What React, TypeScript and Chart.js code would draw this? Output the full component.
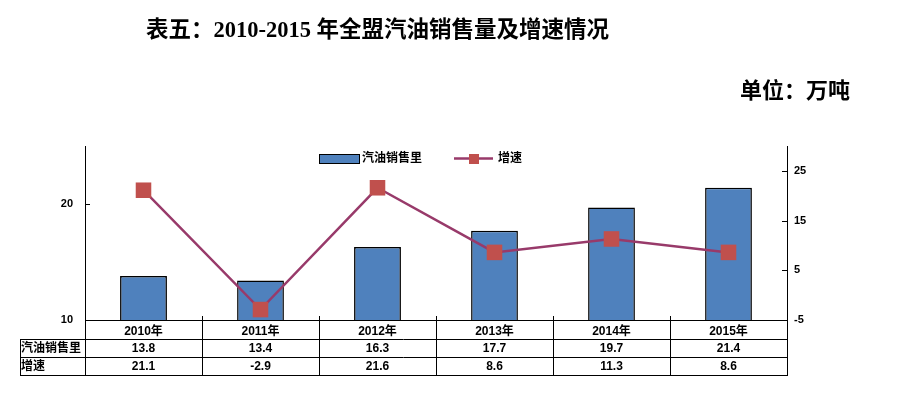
import { useEffect, useRef } from 'react';
import { Chart, registerables } from 'chart.js';

Chart.register(...registerables);

const categories = ['2010年', '2011年', '2012年', '2013年', '2014年', '2015年'];
const salesValues = [13.8, 13.4, 16.3, 17.7, 19.7, 21.4];
const growthValues = [21.1, -2.9, 21.6, 8.6, 11.3, 8.6];
const leftTicks = [10, 20];
const rightTicks = [-5, 5, 15, 25];
const seriesNames = ['汽油销售里', '增速'];
const titleText = '表五：2010-2015 年全盟汽油销售量及增速情况';
const unitText = '单位：万吨';

const BAR_COLOR = '#4F81BD';
const LINE_COLOR = '#983A6A';
const MARKER_COLOR = '#C0504D';
const SANS = "'Liberation Sans', 'Noto Sans CJK SC', sans-serif";
const SERIF = "'Liberation Serif', 'Noto Sans CJK SC', serif";

const decorPlugin = {
  id: 'decor',
  afterDraw(chart: any) {
    const { ctx, chartArea } = chart;
    const { left, right, top, bottom } = chartArea;
    const xs = chart.scales.x;
    const yl = chart.scales.y;
    const yr = chart.scales.y1;
    const p = (v: number) => Math.round(v) + 0.5;
    const line = (x1: number, y1: number, x2: number, y2: number) => {
      ctx.beginPath();
      ctx.moveTo(x1, y1);
      ctx.lineTo(x2, y2);
      ctx.stroke();
    };
    const row1 = bottom + 19;
    const row2 = bottom + 37;
    const tableBottom = bottom + 55;
    const labelLeft = 20;

    ctx.save();
    ctx.strokeStyle = '#000';
    ctx.lineWidth = 1;
    // table horizontal lines
    line(labelLeft, p(row1), right, p(row1));
    line(labelLeft, p(row2), right, p(row2));
    line(labelLeft, p(tableBottom), right + 1, p(tableBottom));
    // table verticals
    line(p(labelLeft), p(row1), p(labelLeft), p(tableBottom));
    line(p(left), bottom, p(left), p(tableBottom));
    line(p(right), bottom, p(right), p(tableBottom));
    for (let i = 1; i < categories.length; i++) {
      const bx = (xs.getPixelForValue(i - 1) + xs.getPixelForValue(i)) / 2;
      line(p(bx), bottom - 4, p(bx), p(tableBottom));
    }
    // inner ticks
    leftTicks.forEach((v) => {
      const ty = p(yl.getPixelForValue(v));
      line(left, ty, left + 5, ty);
    });
    rightTicks.forEach((v) => {
      const ty = p(yr.getPixelForValue(v));
      line(right - 5, ty, right, ty);
    });

    // table text
    ctx.fillStyle = '#000';
    ctx.font = `bold 12px ${SANS}`;
    ctx.textBaseline = 'middle';
    ctx.textAlign = 'left';
    ctx.fillText(seriesNames[0], labelLeft + 1, (row1 + row2) / 2 + 1);
    ctx.fillText(seriesNames[1], labelLeft + 1, (row2 + tableBottom) / 2 + 1);
    ctx.textAlign = 'center';
    categories.forEach((_, i) => {
      const cx = xs.getPixelForValue(i);
      ctx.fillText(salesValues[i].toFixed(1), cx, (row1 + row2) / 2 + 1);
      ctx.fillText(growthValues[i].toFixed(1), cx, (row2 + tableBottom) / 2 + 1);
    });

    // legend
    const ly = top + 12;
    ctx.fillStyle = BAR_COLOR;
    ctx.fillRect(319, ly - 4, 40, 9);
    ctx.strokeRect(319.5, ly - 4 + 0.5, 40, 9);
    ctx.fillStyle = '#000';
    ctx.textAlign = 'left';
    ctx.fillText(seriesNames[0], 362, ly + 1);
    ctx.strokeStyle = LINE_COLOR;
    ctx.lineWidth = 2.5;
    line(454, ly + 0.5, 493, ly + 0.5);
    ctx.fillStyle = MARKER_COLOR;
    ctx.fillRect(469, ly - 4, 10, 10);
    ctx.fillStyle = '#000';
    ctx.fillText(seriesNames[1], 498, ly + 1);

    // title & unit
    ctx.font = `bold 22.5px ${SERIF}`;
    ctx.textAlign = 'left';
    ctx.fillText(titleText, 146, 31);
    ctx.font = `600 22px ${SERIF}`;
    ctx.fillText(unitText, 740, 92);
    ctx.restore();
  },
};

export default function App() {
  const ref = useRef<HTMLCanvasElement | null>(null);
  useEffect(() => {
    if (!ref.current) return;
    const chart = new Chart(ref.current, {
      type: 'bar',
      data: {
        labels: categories,
        datasets: [
          {
            type: 'line',
            label: seriesNames[1],
            data: growthValues,
            yAxisID: 'y1',
            borderColor: LINE_COLOR,
            borderWidth: 2.5,
            pointStyle: 'rect',
            pointRadius: 11,
            pointBackgroundColor: MARKER_COLOR,
            pointBorderColor: MARKER_COLOR,
            pointBorderWidth: 0,
            tension: 0,
            order: 0,
          } as any,
          {
            type: 'bar',
            label: seriesNames[0],
            data: salesValues,
            yAxisID: 'y',
            backgroundColor: BAR_COLOR,
            borderColor: '#000',
            borderWidth: 1.5,
            categoryPercentage: 1,
            barPercentage: 0.4,
            order: 1,
          } as any,
        ],
      },
      options: {
        responsive: false,
        animation: false,
        layout: { padding: { top: 146, left: 0, right: 0, bottom: 0 } },
        plugins: {
          legend: { display: false },
          title: { display: false },
          tooltip: { enabled: false },
        },
        scales: {
          x: {
            offset: true,
            grid: { display: false, drawTicks: false },
            border: { display: true, color: '#000', width: 1 },
            ticks: {
              color: '#000',
              font: { family: SANS, size: 12, weight: 'bold' },
              padding: 4,
              maxRotation: 0,
              autoSkip: false,
            },
            afterFit: (s: any) => {
              s.height = 73;
            },
          },
          y: {
            position: 'left',
            min: 10,
            max: 25,
            grid: { display: false, drawTicks: false },
            border: { display: true, color: '#000', width: 1 },
            ticks: {
              color: '#000',
              font: { family: SANS, size: 11, weight: 'bold' },
              padding: 12,
            },
            afterBuildTicks: (s: any) => {
              s.ticks = leftTicks.map((v) => ({ value: v }));
            },
            afterFit: (s: any) => {
              s.width = 85;
            },
          },
          y1: {
            position: 'right',
            min: -5,
            max: 30,
            grid: { display: false, drawTicks: false },
            border: { display: true, color: '#000', width: 1 },
            ticks: {
              color: '#000',
              font: { family: SANS, size: 11, weight: 'bold' },
              padding: 7,
            },
            afterBuildTicks: (s: any) => {
              s.ticks = rightTicks.map((v) => ({ value: v }));
            },
            afterFit: (s: any) => {
              s.width = 111;
            },
          },
        },
      },
      plugins: [decorPlugin],
    });
    return () => chart.destroy();
  }, []);
  return (
    <div style={{ position: 'absolute', left: 0, top: 0, width: 898, height: 393, background: '#fff' }}>
      <canvas ref={ref} width={898} height={393} />
    </div>
  );
}
